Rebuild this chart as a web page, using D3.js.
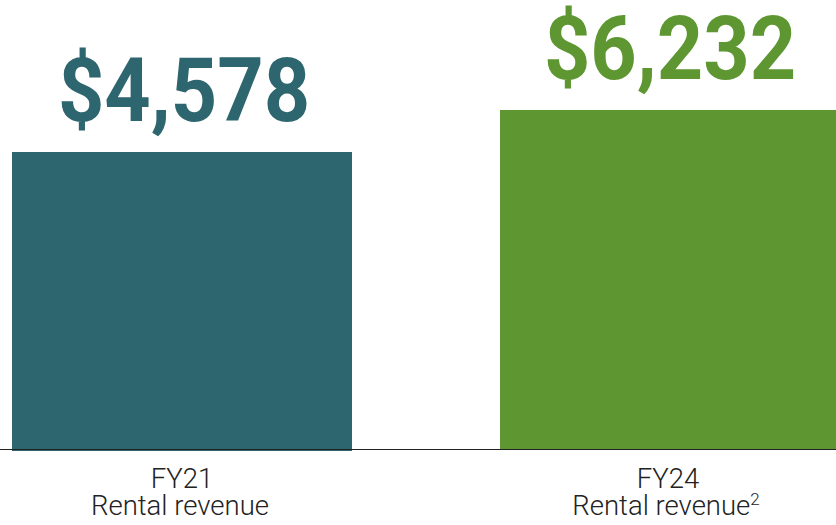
<!DOCTYPE html>
<html>
<head>
<meta charset="utf-8">
<script src="https://cdn.jsdelivr.net/npm/d3@7"></script>
<style>
  body { margin: 0; background: #fff; }
  svg { display: block; }
</style>
</head>
<body>
<div id="chart"></div>
<script>
var categories = ["FY21", "FY24"];
var subLabels = ["Rental revenue", "Rental revenue"];
var footnotes = ["", "2"];
var values = [4578, 6232];
var colors = ["#2e6670", "#5e9732"];

var width = 836;
var height = 525;
var baseline = 449;

var svg = d3.select("#chart")
            .append("svg")
            .attr("width", width)
            .attr("height", height);

// the bars are not drawn from zero in the original, so the domain floor is lower
var scaleY = d3.scaleLinear()
                .domain([-7119, 6232])
                .range([baseline, 110]);

var scaleX = d3.scaleBand()
                .domain(categories)
                .range([12, 836])
                .paddingInner(0.3115)
                .paddingOuter(0);

var data = categories.map(function(c, i) {
    return {cat: c, sub: subLabels[i], note: footnotes[i], value: values[i], color: colors[i]};
});

svg.append("g")
    .selectAll("rect")
    .data(data)
    .enter()
    .append("rect")
    .attr("x", (d) => scaleX(d.cat))
    .attr("y", (d) => scaleY(d.value))
    .attr("width", (d, i) => scaleX.bandwidth() + (i == 0 ? 4 : 0))
    .attr("height", (d, i) => baseline - scaleY(d.value) + (i == 0 ? 2 : 0))
    .attr("fill", (d) => d.color);

svg.append("line")
    .attr("x1", 0)
    .attr("x2", width)
    .attr("y1", baseline + 0.5)
    .attr("y2", baseline + 0.5)
    .attr("stroke", "#222")
    .attr("stroke-width", 1.2);

var fmt = d3.format(",");
var center = (d, i) => scaleX(d.cat) + scaleX.bandwidth() / 2 + (i == 0 ? 2 : 0);

// value labels are a bit narrower than plain Roboto bold
svg.append("g")
    .selectAll("text")
    .data(data)
    .enter()
    .append("text")
    .attr("transform", (d, i) => "translate(" + (center(d, i) + 2) + "," + (scaleY(d.value) - 31) + ") scale(0.91,1)")
    .attr("text-anchor", "middle")
    .style("font-family", "Roboto, sans-serif")
    .style("font-weight", "bold")
    .style("font-size", "89px")
    .attr("fill", (d) => d.color)
    .text((d) => "$" + fmt(d.value));

var labels = svg.append("g")
    .selectAll("text")
    .data(data)
    .enter()
    .append("text")
    .attr("text-anchor", "middle")
    .style("font-family", "Roboto, sans-serif")
    .style("font-weight", "300")
    .style("font-size", "27.5px")
    .attr("fill", "#222");

labels.append("tspan")
    .attr("x", (d, i) => center(d, i))
    .attr("y", 488)
    .text((d) => d.cat);

labels.append("tspan")
    .attr("x", (d, i) => center(d, i) - 2)
    .attr("y", 515)
    .text((d) => d.sub);

labels.append("tspan")
    .attr("dy", -10)
    .style("font-size", "17px")
    .text((d) => d.note);
</script>
</body>
</html>
